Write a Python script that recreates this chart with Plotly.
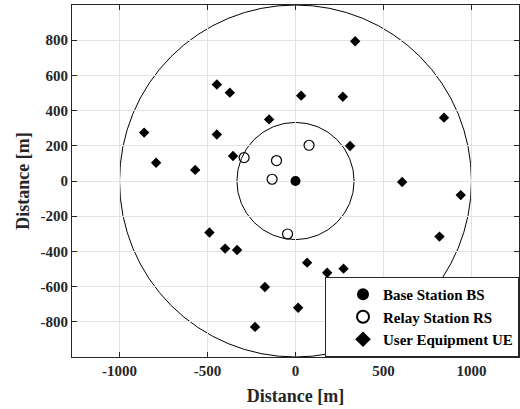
import plotly.graph_objects as go

bs_x = [0]
bs_y = [0]
rs_x = [-292, -108, 77, -133, -45]
rs_y = [133, 116, 203, 10, -301]
ue_x = [-860, -792, -570, -447, -373, -447, -355, -150, 32, 269, 339, 844, 310, 606, 939,
        818, -489, -400, -332, 66, 180, 273, -174, 15, -230]
ue_y = [275, 104, 63, 548, 502, 264, 142, 350, 485, 479, 794, 360, 199, -6, -80,
        -316, -293, -384, -392, -464, -521, -498, -602, -720, -829]
cell_radius = 1000
relay_radius = 333
x_ticks = [-1000, -500, 0, 500, 1000]
y_ticks = [-800, -600, -400, -200, 0, 200, 400, 600, 800]
x_ticklabels = [str(v) for v in x_ticks]
y_ticklabels = [str(v) for v in y_ticks]
legend_names = ["Base Station BS", "Relay Station RS", "User Equipment UE"]

font_family = "Liberation Serif, Times New Roman, serif"
ink = "#262626"

fig = go.Figure()
fig.add_shape(type="circle", x0=-cell_radius, y0=-cell_radius, x1=cell_radius, y1=cell_radius,
              line=dict(color="black", width=1), layer="below")
fig.add_shape(type="circle", x0=-relay_radius, y0=-relay_radius, x1=relay_radius, y1=relay_radius,
              line=dict(color="black", width=1), layer="below")

fig.add_trace(go.Scatter(x=bs_x, y=bs_y, mode="markers", name=legend_names[0],
                         marker=dict(symbol="circle", size=10, color="black")))
fig.add_trace(go.Scatter(x=rs_x, y=rs_y, mode="markers", name=legend_names[1],
                         marker=dict(symbol="circle-open", size=10, color="black", line=dict(width=1.2))))
fig.add_trace(go.Scatter(x=ue_x, y=ue_y, mode="markers", name=legend_names[2],
                         marker=dict(symbol="diamond", size=8, color="black")))

axis_common = dict(showgrid=True, gridcolor="#e3e3e3", gridwidth=1, zeroline=False,
                   showline=True, linecolor=ink, linewidth=1, mirror="ticks",
                   ticks="inside", ticklen=5, tickcolor=ink, automargin=False,
                   tickfont=dict(family=font_family, size=15, color=ink, weight="bold"))
title_font = dict(family=font_family, size=18, color=ink, weight="bold")

fig.update_layout(
    width=520, height=409,
    margin=dict(l=72, r=1, t=5, b=52),
    paper_bgcolor="white", plot_bgcolor="white",
    font=dict(family=font_family, color=ink),
    xaxis=dict(range=[-1270, 1270], tickvals=x_ticks, ticktext=x_ticklabels,
               title=dict(text="Distance [m]", font=title_font, standoff=11),
               **axis_common),
    yaxis=dict(range=[-1000, 1000], tickvals=y_ticks, ticktext=y_ticklabels,
               title=dict(text="Distance [m]", font=title_font, standoff=6),
               **axis_common),
    showlegend=True,
    legend=dict(x=1, y=0, xanchor="right", yanchor="bottom", bgcolor="white",
                bordercolor=ink, borderwidth=1, indentation=17,
                font=dict(family=font_family, size=15, color="black", weight="bold"),
                tracegroupgap=0, itemsizing="constant"),
)

fig.write_html("out.html", config={"displayModeBar": False},
               post_script="document.body.style.margin='0';document.body.style.padding='0';")
